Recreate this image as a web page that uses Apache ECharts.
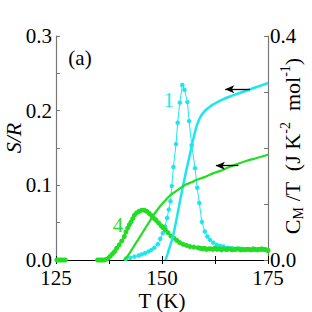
<!DOCTYPE html>
<html><head><meta charset="utf-8">
<script src="https://cdn.jsdelivr.net/npm/echarts@6/dist/echarts.min.js"></script>
<style>html,body{margin:0;padding:0;background:#fff}#c{width:312px;height:312px}</style>
</head><body><div id="c"></div>
<script>
// Sample 1 entropy S/R (left axis)
const tS1 = [150.8,151.3,151.8,152.3,152.8,153.5,154.6,155.5,156.6,157.5,158.2,159.0,160.0,161.0,162.0,164.0,166.0,168.0,170.0,172.0,175.0];
const vS1 = [0.000,0.008,0.017,0.026,0.037,0.057,0.089,0.114,0.142,0.165,0.180,0.191,0.199,0.204,0.208,0.214,0.219,0.223,0.227,0.231,0.237];
// Sample 1 C_M/T (right axis)
const tC1 = [141.5,142.5,143.5,144.5,145.2,146.0,146.8,147.5,148.2,149.0,149.6,150.2,150.7,151.2,151.6,152.0,152.3,152.7,153.3,153.7,154.2,154.8,155.3,156.0,156.4,157.0,157.8,158.3,158.8,159.4,160.1,160.7,161.3,162.1,162.9,163.7,164.5,165.5,166.5,167.5,168.5,169.5,170.5,171.5,172.5,173.5,174.5,175.0];
const vC1 = [0.002,0.004,0.006,0.008,0.010,0.012,0.015,0.018,0.022,0.028,0.038,0.048,0.060,0.075,0.090,0.105,0.132,0.166,0.207,0.245,0.281,0.3125,0.304,0.282,0.248,0.205,0.164,0.129,0.102,0.068,0.051,0.042,0.036,0.031,0.027,0.025,0.024,0.022,0.021,0.020,0.020,0.019,0.019,0.018,0.019,0.018,0.019,0.018];
// Sample 4 entropy S/R (left axis)
const tS4 = [141.0,142.0,143.0,144.0,145.0,146.0,147.0,148.0,149.0,150.0,151.0,152.0,153.0,154.0,155.0,156.0,157.0,158.0,160.0,162.0,164.0,166.0,168.0,170.0,172.0,175.0];
const vS4 = [0.000,0.006,0.015,0.024,0.033,0.042,0.051,0.060,0.068,0.075,0.081,0.087,0.091,0.095,0.099,0.102,0.104,0.107,0.111,0.116,0.120,0.125,0.129,0.133,0.136,0.141];
// Sample 4 C_M/T (right axis); null marks a gap in the data
const tC4 = [125.2,125.7,126.2,126.7,127.2,131.0,134.8,135.3,135.8,136.3,136.8,137.3,137.8,138.3,138.8,139.3,139.9,140.5,141.1,141.5,141.9,142.3,142.7,143.1,143.5,144.0,144.6,145.2,145.8,146.4,147.0,147.6,148.2,148.6,149.2,149.8,150.2,150.8,151.4,152.1,152.8,153.5,154.2,155.0,155.8,156.6,157.5,158.5,159.0,159.5,160.0,160.5,161.0,161.5,162.0,162.5,163.0,163.5,164.0,164.5,165.0,165.5,166.0,166.5,167.0,167.5,168.0,168.5,169.0,169.5,170.0,170.5,171.0,171.5,172.0,172.5,173.0,173.5,174.0,174.5,175.0];
const vC4 = [0,0,0,0,0,null,0,0,0,0,0.001,0.003,0.007,0.011,0.015,0.021,0.027,0.034,0.042,0.050,0.057,0.063,0.068,0.074,0.080,0.084,0.087,0.089,0.089,0.087,0.083,0.079,0.074,0.071,0.066,0.061,0.058,0.054,0.049,0.043,0.039,0.035,0.031,0.028,0.026,0.024,0.023,0.022,0.021,0.020,0.021,0.019,0.020,0.020,0.019,0.021,0.019,0.020,0.018,0.020,0.019,0.019,0.020,0.018,0.019,0.019,0.020,0.018,0.019,0.018,0.019,0.019,0.018,0.020,0.019,0.018,0.019,0.020,0.019,0.018,0.017];
// axis ranges and tick labels
const xMin = 125, xMax = 175, xStep = 12.5;
const yLMin = 0, yLMax = 0.3, yLStep = 0.05;
const yRMin = 0, yRMax = 0.4, yRStep = 0.1;
const xTickLabels = ['125', '150', '175'];
const yLTickLabels = ['0.0', '0.1', '0.2', '0.3'];
const yRTickLabels = ['0.0', '0.4'];

const CYAN = '#1ee6ee', GREEN = '#22dd22';
const FONT = 'Liberation Serif';
const pairs = (t, v) => t.map((x, i) => [x, v[i] === null ? '-' : v[i]]);

const chart = echarts.init(document.getElementById('c'), null, {renderer: 'svg'});
const tickStyle = c => ({show: true, inside: true, length: 4, lineStyle: {color: c, width: 1}});
const option = {
  animation: false,
  backgroundColor: '#fff',
  grid: {left: 56, right: 44, top: 36, bottom: 52},
  xAxis: [
    {type: 'value', min: xMin, max: xMax, interval: xStep, position: 'bottom',
     axisLine: {lineStyle: {color: '#000', width: 1.2}}, axisTick: tickStyle('#000'), splitLine: {show: false},
     axisLabel: {show: false}},
    {type: 'value', min: xMin, max: xMax, interval: xStep, position: 'top',
     axisLine: {lineStyle: {color: '#000', width: 1.2}}, axisTick: tickStyle('#000'),
     axisLabel: {show: false}, splitLine: {show: false}}
  ],
  yAxis: [
    {type: 'value', min: yLMin, max: yLMax, interval: yLStep, position: 'left',
     axisLine: {show: true, lineStyle: {color: '#777', width: 1.2}}, axisTick: tickStyle('#777'), splitLine: {show: false},
     axisLabel: {show: false}},
    {type: 'value', min: yRMin, max: yRMax, interval: yRStep, position: 'right',
     axisLine: {show: true, lineStyle: {color: '#777', width: 1.2}}, axisTick: tickStyle('#777'), splitLine: {show: false},
     axisLabel: {show: false}}
  ],
  series: [
    {type: 'line', name: 'C1', xAxisIndex: 0, yAxisIndex: 1, data: pairs(tC1, vC1),
     symbol: 'circle', symbolSize: 4.5, itemStyle: {color: CYAN}, lineStyle: {color: CYAN, width: 1}, z: 2},
    {type: 'line', name: 'C4', xAxisIndex: 0, yAxisIndex: 1, data: pairs(tC4, vC4), connectNulls: false,
     symbol: 'circle', symbolSize: 5, itemStyle: {color: GREEN}, lineStyle: {color: GREEN, width: 2}, z: 3},
    {type: 'line', name: 'S1', xAxisIndex: 0, yAxisIndex: 0, data: pairs(tS1, vS1), smooth: 0.3,
     showSymbol: false, lineStyle: {color: CYAN, width: 2.5}, z: 4,
     markLine: {silent: true, symbol: ['none', 'arrow'], symbolSize: [6, 9], label: {show: false},
       lineStyle: {color: '#000', width: 1.3, type: 'solid'},
       data: [[{coord: [170.75, 0.2286]}, {coord: [164.9, 0.2286]}]]}},
    {type: 'line', name: 'S4', xAxisIndex: 0, yAxisIndex: 0, data: pairs(tS4, vS4), smooth: 0.3,
     showSymbol: false, lineStyle: {color: GREEN, width: 2.2}, z: 4,
     markLine: {silent: true, symbol: ['none', 'arrow'], symbolSize: [6, 9], label: {show: false},
       lineStyle: {color: '#000', width: 1.3, type: 'solid'},
       data: [[{coord: [168.0, 0.1263]}, {coord: [162.7, 0.1263]}]]}}
  ]
};
chart.setOption(option);

const pxL = (t, s) => chart.convertToPixel({xAxisIndex: 0, yAxisIndex: 0}, [t, s]);
const pxR = (t, c) => chart.convertToPixel({xAxisIndex: 0, yAxisIndex: 1}, [t, c]);
const txt = (s, extra) => Object.assign({text: s, fontSize: 21, fontFamily: FONT, fill: '#000', align: 'center', verticalAlign: 'middle', textAlign: 'center', textVerticalAlign: 'middle'}, extra || {});

const g = [];
// tick labels, placed through the axes' own scales
xTickLabels.forEach(l => { const p = pxL(Number(l), yLMin); g.push({type: 'text', x: p[0], y: p[1] + 18, style: txt(l)}); });
yLTickLabels.forEach(l => { const p = pxL(xMin, Number(l)); g.push({type: 'text', x: p[0] - 4, y: p[1], style: txt(l, {align: 'right', textAlign: 'right'})}); });
yRTickLabels.forEach(l => { const p = pxR(xMax, Number(l)); g.push({type: 'text', x: p[0] + 2, y: p[1], style: txt(l, {align: 'left', textAlign: 'left'})}); });

const p1 = pxL(151.6, 0.214);
const p4 = pxL(139.6, 0.047);
g.push(
  {type: 'text', x: 80, y: 58, style: txt('(a)')},
  {type: 'text', x: p1[0], y: p1[1], style: txt('1', {fill: CYAN})},
  {type: 'text', x: p4[0], y: p4[1], style: txt('4', {fill: GREEN})},
  {type: 'text', x: 162, y: 301, style: txt('T (K)')},
  {type: 'text', x: 13, y: 138, rotation: Math.PI / 2, style: txt('S/R', {fontStyle: 'italic', fontSize: 22})},
  {type: 'text', x: 292, y: 146, rotation: Math.PI / 2,
   style: txt('{a|C}{s|M}{a| /T  (J K}{p|-2}{a|  mol}{p|-1}{a|)}', {
     rich: {
       a: {fontSize: 22, fontFamily: FONT, fill: '#000', lineHeight: 27},
       s: {fontSize: 14, fontFamily: FONT, fill: '#000', verticalAlign: 'bottom', lineHeight: 15},
       p: {fontSize: 14, fontFamily: FONT, fill: '#000', verticalAlign: 'top', lineHeight: 15}
     }})}
);
chart.setOption({graphic: g});
</script></body></html>
